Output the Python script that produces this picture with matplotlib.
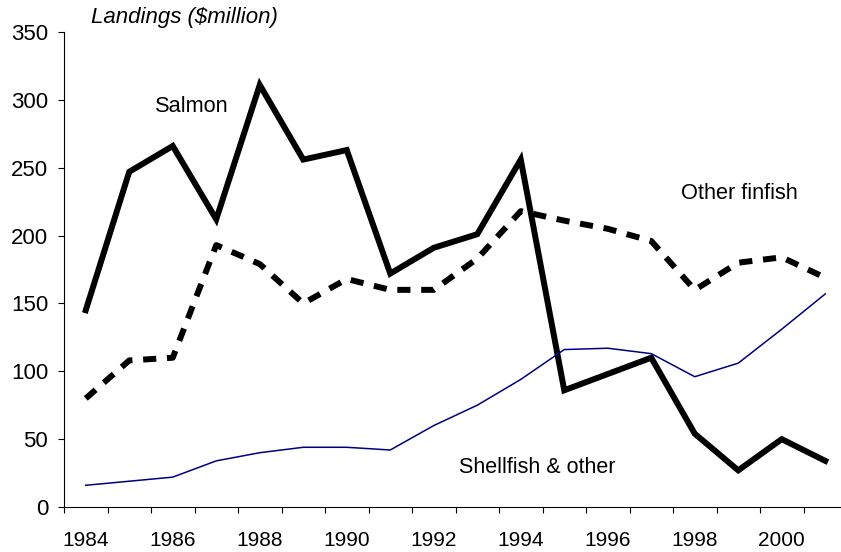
import matplotlib
matplotlib.use("Agg")
import matplotlib.pyplot as plt
import numpy as np

plt.rcParams["font.family"] = ["Liberation Sans", "DejaVu Sans"]

years = list(range(1984, 2002))
salmon = [145, 247, 266, 212, 311, 256, 263, 172, 191, 201, 256, 86, 98, 110, 54, 27, 50, 34]
other_finfish = [80, 108, 110, 193, 179, 150, 168, 160, 160, 183, 218, 211, 205, 196, 160, 180, 184, 169]
shellfish = [16, 19, 22, 34, 40, 44, 44, 42, 60, 75, 94, 116, 117, 113, 96, 106, 131, 157]
yticks = [0, 50, 100, 150, 200, 250, 300, 350]

fig = plt.figure(figsize=(8.41, 5.52), dpi=100)
ax = fig.add_axes([64/841, 1-507/552, (847-64)/841, (507-32)/552])
x = np.arange(len(years))

ax.plot(x, salmon, color="black", lw=4.3, solid_joinstyle="miter")
ax.plot(x, other_finfish, color="black", lw=4.3, dashes=(2.2, 1.8), dash_capstyle="butt")
ax.plot(x, shellfish, color="#000080", lw=1.1)

ax.set_xlim(-0.5, len(years)-0.5)
ax.set_ylim(0, 350)
ax.set_yticks(yticks)
ax.set_yticklabels([str(v) for v in yticks])
ax.set_xticks(x[::2])
ax.set_xticklabels([str(y) for y in years[::2]])
ax.set_xticks(np.arange(-0.5, len(years)), minor=True)
ax.tick_params(axis="x", which="major", length=0, pad=17, labelsize=15)
ax.tick_params(axis="x", which="minor", length=4, width=0.8, direction="out")
ax.tick_params(axis="y", length=4.5, width=0.8, direction="out", labelsize=16, pad=7)
for s in ["top", "right"]:
    ax.spines[s].set_visible(False)
for s in ["left", "bottom"]:
    ax.spines[s].set_linewidth(0.8)

ax.text(2.44, 295, "Salmon", fontsize=15.7, ha="center", va="center")
ax.text(15.02, 231, "Other finfish", fontsize=15.7, ha="center", va="center")
ax.text(10.37, 29, "Shellfish & other", fontsize=15.5, ha="center", va="center")
fig.text(184/841, 1-17/552, "Landings ($million)", fontsize=16, style="italic", ha="center", va="center")

fig.savefig("out.png", dpi=100)
